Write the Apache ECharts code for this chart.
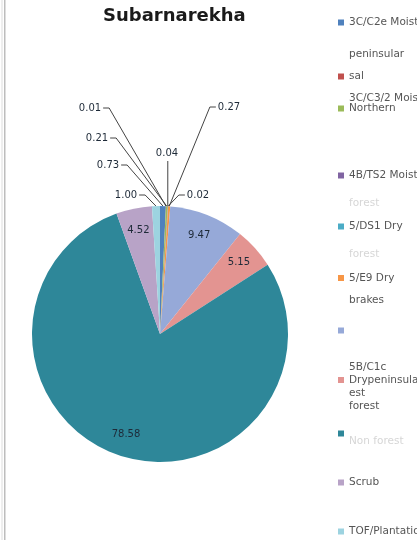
<!DOCTYPE html>
<html><head><meta charset="utf-8">
<script src="https://cdn.jsdelivr.net/npm/echarts@6/dist/echarts.min.js"></script>
<style>html,body{margin:0;padding:0;background:#fff}#c{width:417px;height:540px}</style>
</head><body><div id="c"></div>
<script>
// ---- data ----
const chartTitle = 'Subarnarekha';
const categories = [
  '3C/C2e Moist peninsular', 'sal', '3C/C3/2 Northern', '4B/TS2 Moist forest',
  '5/DS1 Dry forest', '5/E9 Dry brakes', 'Unlabelled',
  '5B/C1c Drypeninsular forest', 'Non forest', 'Scrub', 'TOF/Plantation'
];
const values = [0.73, 0.01, 0.21, 0.04, 0.02, 0.27, 9.47, 5.15, 78.58, 4.52, 1.00];
const colors = ['#4F81BD', '#C0504D', '#9BBB59', '#8064A2', '#4BACC6', '#F79646',
  '#96A9D8', '#E39491', '#2E8799', '#B8A3C7', '#9DD3E0'];
// legend text lines as shown (a leading "~" marks a faint line)
const legendLines = [
  ['3C/C2e Moist', '', 'peninsular'], ['sal'], ['3C/C3/2 Moist', 'Northern'],
  ['4B/TS2 Moist', '', '~forest'], ['5/DS1 Dry', '', '~forest'], ['5/E9 Dry', '', 'brakes'],
  [''], ['5B/C1c', 'Drypeninsular', 'est', 'forest'], ['', '~Non forest'], ['Scrub'], ['TOF/Plantation']
];

// ---- layout ----
const CX = 160, CY = 334, R = 128;
const legendMarkerLine = [0, 0, 1, 0, 0, 0, 0, 1, 0, 0, 0];
const legendLineH = [16, 12, 10, 14, 14, 11, 12, 13, 8, 12, 12];
const legendY = [25, 77, 108, 177, 228, 278, 331, 381, 432, 483, 532];
const outsideLabel = { // dataIndex -> [labelCenterX, labelCenterY, side]
  0: [108, 165, 'L'], 1: [90, 108, 'L'], 2: [97, 138, 'L'], 3: [167, 153, 'T'],
  4: [198, 195, 'R'], 5: [229, 107, 'R'], 10: [126, 195, 'L']
};

const legends = categories.map((name, i) => {
  let lines = legendLines[i].slice();
  const k = legendMarkerLine[i];
  const n = lines.length;
  const b = n - 1 - 2 * k;
  if (b > 0) for (let j = 0; j < b; j++) lines.unshift('');
  else if (b < 0) for (let j = 0; j < -b; j++) lines.push('');
  const lh = legendLineH[i];
  const txt = lines.map(s => s === '' ? '{n| }' : (s[0] === '~' ? '{f|' + s.slice(1) + '}' : '{n|' + s + '}')).join('\n');
  const h = Math.max(6, lines.length * lh);
  return {
    data: [name], left: 338, top: legendY[i] - h / 2, padding: 0,
    itemWidth: 6, itemHeight: 6, icon: 'rect', itemGap: 0,
    selectedMode: false,
    formatter: () => txt,
    textStyle: {
      rich: {
        n: { fontFamily: 'DejaVu Sans', fontSize: 10.5, color: '#555', lineHeight: lh },
        f: { fontFamily: 'DejaVu Sans', fontSize: 10.5, color: '#d6d6d6', lineHeight: lh }
      }
    }
  };
});

const data = categories.map((name, i) => {
  const out = outsideLabel[i] !== undefined;
  return {
    name, value: values[i], itemStyle: { color: colors[i] },
    label: { position: out ? 'outside' : 'inside' },
    labelLine: { show: out }
  };
});

const chart = echarts.init(document.getElementById('c'));
chart.setOption({
  animation: false,
  backgroundColor: '#fff',
  title: {
    text: chartTitle, left: 103, top: 7, padding: 0,
    textStyle: { fontFamily: 'DejaVu Sans', fontWeight: 'bold', fontSize: 18, color: '#1a1a1a' }
  },
  legend: legends,
  graphic: [
    { type: 'rect', shape: { x: 1.5, y: 0, width: 1, height: 540 }, style: { fill: '#dedede' }, silent: true },
    { type: 'rect', shape: { x: 4, y: 0, width: 1.5, height: 540 }, style: { fill: '#bdbdbd' }, silent: true }
  ],
  series: [{
    type: 'pie',
    center: [CX, CY], radius: R,
    startAngle: 90, clockwise: true,
    avoidLabelOverlap: false, minShowLabelAngle: 0,
    itemStyle: { borderWidth: 0 },
    label: {
      show: true, formatter: p => p.value.toFixed(2),
      fontFamily: 'DejaVu Sans', fontSize: 10, color: '#1e2a38'
    },
    labelLine: { show: true, length: 10, length2: 10, lineStyle: { color: '#444', width: 1 } },
    emphasis: { disabled: true },
    data,
    labelLayout: function (p) {
      const i = p.dataIndex;
      const cfg = outsideLabel[i];
      const rc = p.labelRect;
      if (!cfg) {
        const lx = rc.x + rc.width / 2, ly = rc.y + rc.height / 2;
        const dx = lx - CX, dy = ly - CY;
        const d = Math.sqrt(dx * dx + dy * dy) || 1;
        const rr = 0.83 * R;
        return { x: CX + dx / d * rr, y: CY + dy / d * rr, align: 'center', verticalAlign: 'middle' };
      }
      const [x, y, side] = cfg;
      const anchor = p.labelLinePoints ? p.labelLinePoints[0] : [CX, CY - R];
      const hw = rc.width / 2;
      let pts;
      if (side === 'L') pts = [anchor, [x + hw + 8, y], [x + hw + 2, y]];
      else if (side === 'R') pts = [anchor, [x - hw - 8, y], [x - hw - 2, y]];
      else pts = [anchor, [anchor[0], y + 10], [anchor[0], y + 8]];
      return { x, y, align: 'center', verticalAlign: 'middle', labelLinePoints: pts };
    }
  }]
});
</script></body></html>
